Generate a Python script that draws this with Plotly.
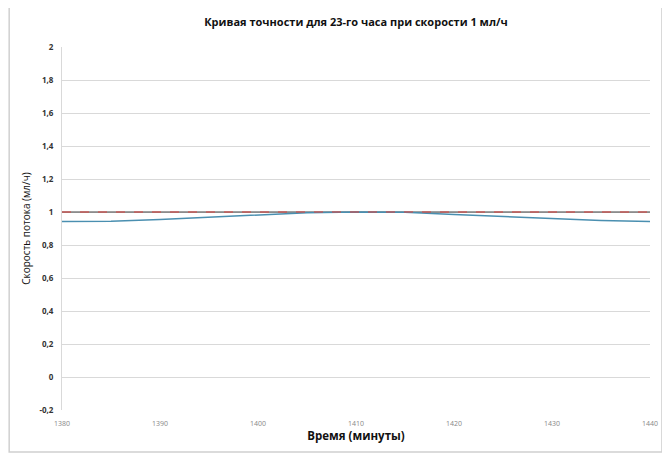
import plotly.graph_objects as go

time_min = [1380, 1385, 1390, 1395, 1400, 1405, 1410, 1415, 1420, 1425, 1430, 1435, 1440]
flow_measured = [0.942, 0.944, 0.955, 0.968, 0.982, 0.995, 1.0, 0.998, 0.985, 0.972, 0.958, 0.948, 0.942]
flow_target = [1.0] * len(time_min)
y_ticks = [-0.2, 0, 0.2, 0.4, 0.6, 0.8, 1, 1.2, 1.4, 1.6, 1.8, 2]
y_tick_text = ["-0,2", "0", "0,2", "0,4", "0,6", "0,8", "1", "1,2", "1,4", "1,6", "1,8", "2"]
x_ticks = [1380, 1390, 1400, 1410, 1420, 1430, 1440]

fig = go.Figure()
fig.add_trace(go.Scatter(x=time_min, y=flow_target, mode="lines",
                         line=dict(color="#404040", width=1), showlegend=False))
fig.add_trace(go.Scatter(x=time_min, y=flow_measured, mode="lines",
                         line=dict(color="#4a8fb0", width=1.5), showlegend=False))
fig.add_trace(go.Scatter(x=time_min, y=flow_target, mode="lines",
                         line=dict(color="#e0403c", width=1, dash="dash"), showlegend=False))

OFF = 8  # page body margin offset
W, H = 670 - OFF, 455 - OFF
L, T = 62 - OFF, 46.5 - OFF
R = W - (652 - OFF)
B = H - (410 - OFF)
pw, ph = W - L - R, H - T - B

def px(x):
    return (x - OFF - L) / pw

def py(y):
    return (H - B - (y - OFF)) / ph

fig.add_shape(type="rect", xref="paper", yref="paper",
              x0=px(9), x1=px(664), y0=py(452), y1=py(6),
              line=dict(color="#d0d0d0", width=1.5), fillcolor="rgba(0,0,0,0)", layer="below")

fig.update_layout(
    width=W, height=H,
    margin=dict(l=L, r=R, t=T, b=B),
    paper_bgcolor="white", plot_bgcolor="white",
    font=dict(family="Open Sans, Liberation Sans, sans-serif", color="#222"),
    title=dict(text="<b>Кривая точности для 23-го часа при скорости 1 мл/ч</b>",
               xref="paper", x=px(357), xanchor="center",
               yref="container", y=1 - (22 - OFF) / H, yanchor="middle",
               font=dict(size=11, color="#111")),
    xaxis=dict(range=[1380, 1440], tickvals=x_ticks, showgrid=False, zeroline=False,
               showline=False, ticks="outside", ticklen=7, tickcolor="rgba(0,0,0,0)",
               tickfont=dict(size=7, color="#888"),
               title=dict(text="<b>Время (минуты)</b>", font=dict(size=11.5, color="#111"), standoff=2)),
    yaxis=dict(range=[-0.2, 2], tickvals=y_ticks, ticktext=["<b>%s</b>" % t for t in y_tick_text],
               showgrid=True, gridcolor="#d9d9d9", gridwidth=1, zeroline=False,
               showline=True, linecolor="#d9d9d9", ticks="outside", ticklen=6,
               tickcolor="rgba(0,0,0,0)",
               tickfont=dict(size=8, color="#333"),
               title=dict(text="Скорость потока (мл/ч)", font=dict(size=10, color="#111"), standoff=6)),
)

fig.write_html("out.html")
